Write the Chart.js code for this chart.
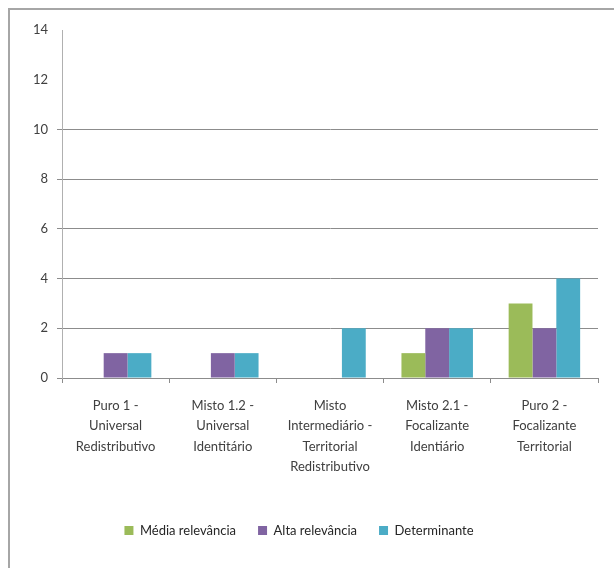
<!DOCTYPE html>
<html>
<head>
<meta charset="utf-8">
<script src="https://cdn.jsdelivr.net/npm/chart.js@4/dist/chart.umd.min.js"></script>
<style>
    html, body { margin: 0; padding: 0; background: #fff; overflow: hidden; }
    #moldura {
        position: absolute; left: 8px; top: 8px;
        width: 700px; height: 700px;
        border: 2px solid #a6a6a6; box-sizing: border-box;
    }
    #grafico { position: absolute; left: 0; top: 0; }
</style>
</head>
<body>
<div id="moldura"></div>
<canvas id="grafico" width="614" height="568"></canvas>
<script>
// categorias do eixo x (uma linha por item do array interno)
const categorias = [
    ["Puro 1 -", "Universal", "Redistributivo"],
    ["Misto 1.2 -", "Universal", "Identitário"],
    ["Misto", "Intermediário -", "Territorial", "Redistributivo"],
    ["Misto 2.1 -", "Focalizante", "Identiário"],
    ["Puro 2 -", "Focalizante", "Territorial"]
];

const mediaRelevancia = [0, 0, 0, 1, 3];
const altaRelevancia = [1, 1, 0, 2, 2];
const determinante = [1, 1, 2, 2, 4];

const ticksY = [0, 2, 4, 6, 8, 10, 12, 14];

Chart.defaults.font.family = "Lato";
Chart.defaults.color = "#404040";

const grafico = document.getElementById("grafico");

new Chart(grafico, {
    type: "bar",
    data: {
        labels: categorias,
        datasets: [
            {
                label: "Média relevância",
                data: mediaRelevancia,
                backgroundColor: "#9bbb59"
            },
            {
                label: "Alta relevância",
                data: altaRelevancia,
                backgroundColor: "#8064a2"
            },
            {
                label: "Determinante",
                data: determinante,
                backgroundColor: "#4bacc6"
            }
        ]
    },
    options: {
        responsive: false,
        animation: false,
        devicePixelRatio: 1,
        categoryPercentage: 0.667,
        barPercentage: 1,
        layout: {
            padding: { left: 0, right: 16, top: 30, bottom: 21 }
        },
        plugins: {
            tooltip: { enabled: false },
            legend: {
                position: "bottom",
                labels: {
                    boxWidth: 9,
                    boxHeight: 9,
                    padding: 22,
                    color: "#262626",
                    font: { size: 13 }
                }
            }
        },
        scales: {
            x: {
                afterFit(scale) {
                    scale.height = 124;
                },
                grid: {
                    drawOnChartArea: false,
                    tickLength: 5,
                    color: "#8c8c8c"
                },
                border: { color: "#8c8c8c" },
                ticks: {
                    padding: 13,
                    maxRotation: 0,
                    autoSkip: false,
                    font: { size: 13, lineHeight: 1.55 }
                }
            },
            y: {
                min: 0,
                max: 14,
                afterFit(scale) {
                    scale.width = 62;
                },
                afterBuildTicks(scale) {
                    scale.ticks = ticksY.map(v => ({ value: v }));
                },
                grid: {
                    tickLength: 5,
                    color(ctx) {
                        // linhas de grade apenas até o 10
                        return ctx.tick && ctx.tick.value > 10 ? "rgba(0,0,0,0)" : "#8c8c8c";
                    }
                },
                border: { color: "#b0b0b0" },
                ticks: {
                    padding: 9,
                    font: { size: 13 }
                }
            }
        }
    }
});
</script>
</body>
</html>
